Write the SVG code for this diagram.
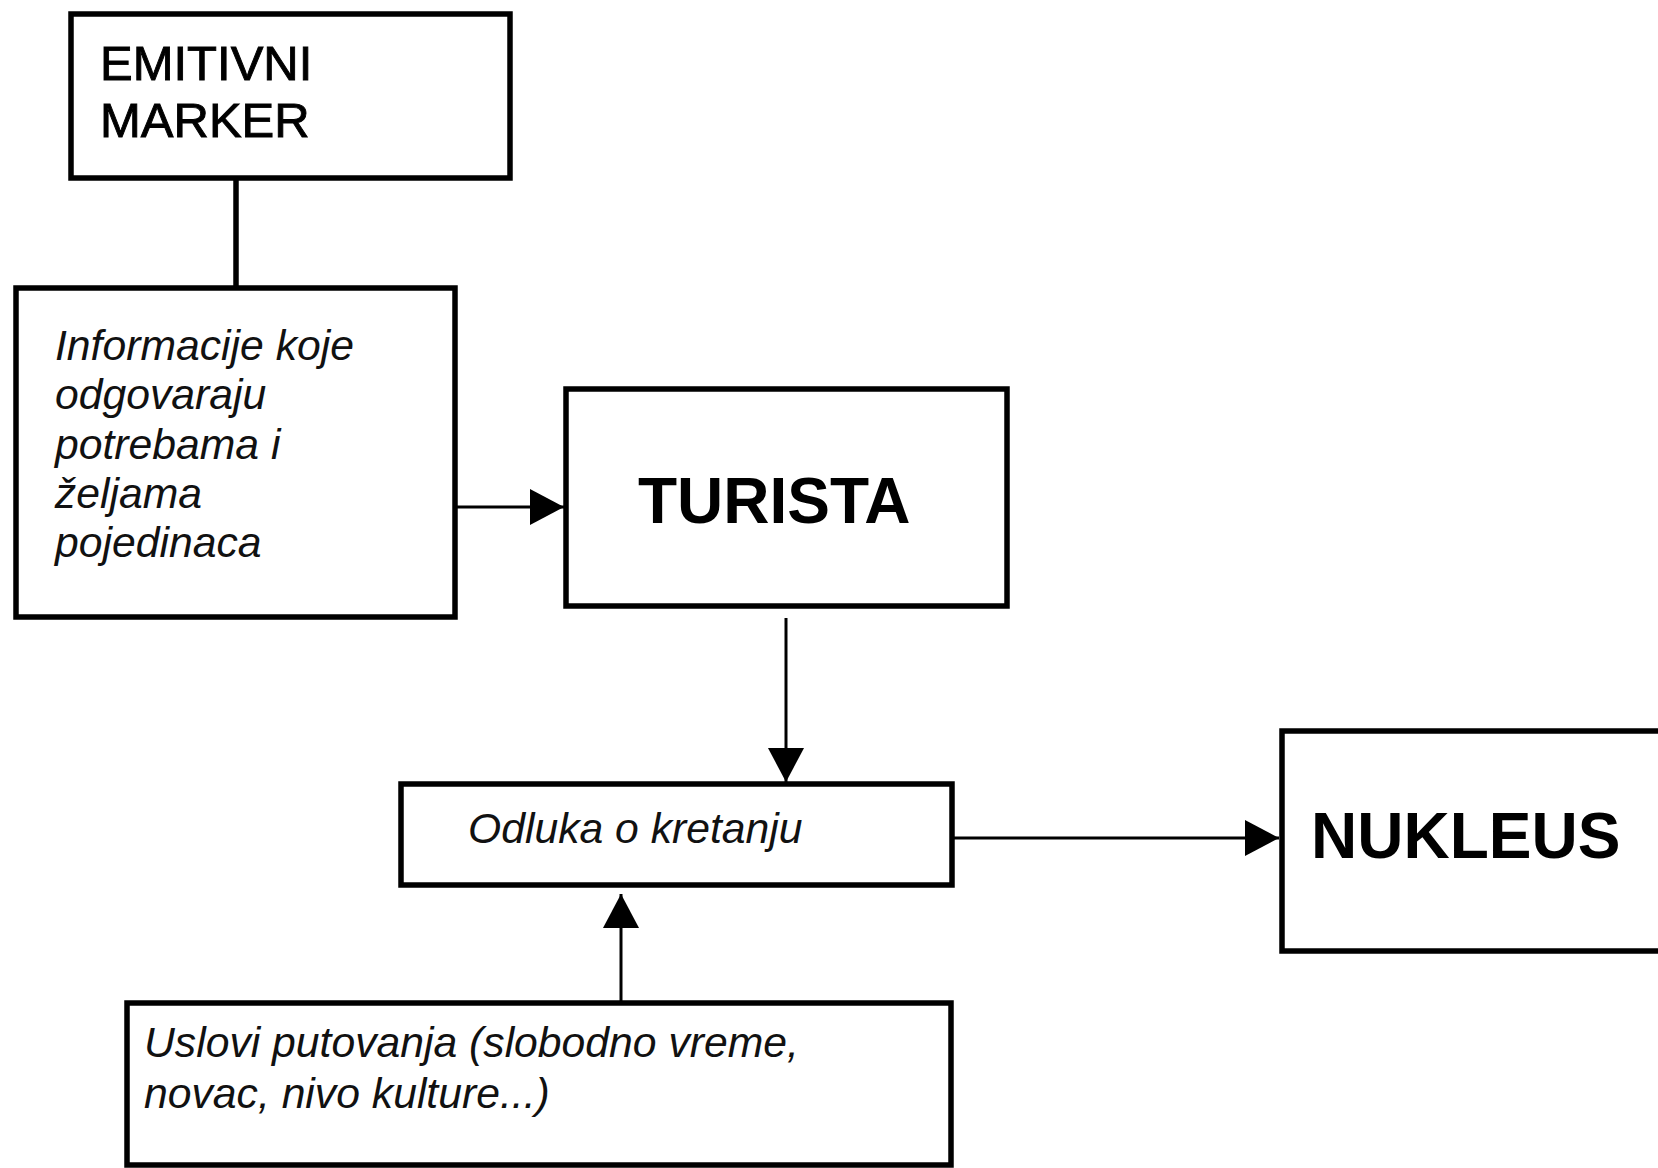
<svg xmlns="http://www.w3.org/2000/svg" width="1658" height="1168" viewBox="0 0 1658 1168">
<style>
.box{fill:#fff;stroke:#000;stroke-width:5.5}
.t{font-family:"Liberation Sans",Arial,sans-serif;fill:#000}
.reg{font-size:49px;stroke:#000;stroke-width:0.9}
.bold{font-size:64px;font-weight:bold}
.it{font-size:42.7px;font-style:italic;fill:#111}
.con{stroke:#000;stroke-width:3;fill:none}
</style>
<defs>
<marker id="ah" markerUnits="userSpaceOnUse" markerWidth="35" markerHeight="36" refX="34" refY="18" orient="auto">
<path d="M0,0 L34,18 L0,36 z" fill="#000"/>
</marker>
</defs>
<rect width="1658" height="1168" fill="#fff"/>
<g id="connectors">
<line x1="236" y1="178" x2="236" y2="288" stroke="#000" stroke-width="5.5"/>
<line class="con" x1="457" y1="507" x2="564" y2="507" marker-end="url(#ah)"/>
<line class="con" x1="786" y1="618" x2="786" y2="782" marker-end="url(#ah)"/>
<line class="con" x1="952" y1="838" x2="1279" y2="838" marker-end="url(#ah)"/>
<line class="con" x1="621" y1="1003" x2="621" y2="894" marker-end="url(#ah)"/>
</g>
<g id="emitivni">
<rect class="box" x="71" y="14" width="439" height="164"/>
<text class="t reg" x="100" y="80">EMITIVNI</text>
<text class="t reg" x="100" y="137">MARKER</text>
</g>
<g id="informacije">
<rect class="box" x="16" y="288" width="439" height="329"/>
<text class="t it" x="55" y="360">Informacije koje</text>
<text class="t it" x="55" y="409">odgovaraju</text>
<text class="t it" x="55" y="459">potrebama i</text>
<text class="t it" x="55" y="508">željama</text>
<text class="t it" x="55" y="557">pojedinaca</text>
</g>
<g id="turista">
<rect class="box" x="566" y="389" width="441" height="217"/>
<text class="t bold" x="638" y="523">TURISTA</text>
</g>
<g id="odluka">
<rect class="box" x="401" y="784" width="551" height="101"/>
<text class="t it" x="468" y="843">Odluka o kretanju</text>
</g>
<g id="nukleus">
<rect class="box" x="1282" y="731" width="450" height="220"/>
<text class="t bold" x="1311" y="858">NUKLEUS</text>
</g>
<g id="uslovi">
<rect class="box" x="127" y="1003" width="824" height="162"/>
<text class="t it" x="144" y="1057">Uslovi putovanja (slobodno vreme,</text>
<text class="t it" x="144" y="1108">novac, nivo kulture...)</text>
</g>
</svg>
